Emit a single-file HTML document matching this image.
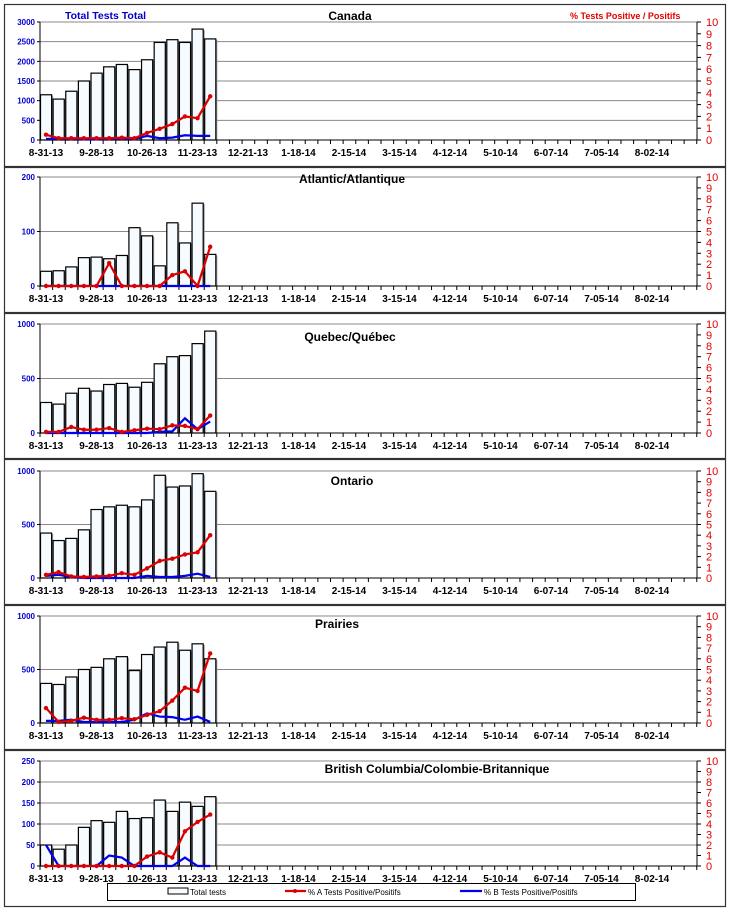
<!DOCTYPE html>
<html><head><meta charset="utf-8"><style>
html,body{margin:0;padding:0;background:#fff;}
svg{display:block;font-family:"Liberation Sans",Arial,sans-serif;}
</style></head><body>
<svg id="s" width="730" height="912" viewBox="0 0 730 912" xmlns="http://www.w3.org/2000/svg"></svg>
<script>
const S=document.getElementById('s');let h='';
const X0=40,XR=697,W=12.63;
const labels=['8-31-13','9-28-13','10-26-13','11-23-13','12-21-13','1-18-14','2-15-14','3-15-14','4-12-14','5-10-14','6-07-14','7-05-14','8-02-14'];
const P=[
{t:22,b:140,max:3000,step:500,title:'Canada',tx:350,ty:20,
tot:[1150,1040,1240,1500,1700,1860,1920,1790,2040,2480,2550,2480,2820,2570],
A:[0.45,0.15,0.15,0.15,0.15,0.15,0.2,0.15,0.6,0.95,1.35,2.0,1.85,3.7],
B:[0.1,0.1,0.1,0.05,0.05,0.1,0.1,0.1,0.35,0.15,0.2,0.4,0.35,0.35]},
{t:177,b:286,max:200,step:100,title:'Atlantic/Atlantique',tx:352,ty:183,
tot:[27,28,35,52,53,50,56,107,92,37,116,79,152,58],
A:[0,0,0,0,0,2.1,0,0,0,0,1.0,1.35,0,3.6],B:[0,0,0,0,0,0,0,0,0,0,0,0,0,0]},
{t:324,b:433,max:1000,step:500,title:'Quebec/Québec',tx:350,ty:341,
tot:[280,265,365,410,385,445,455,420,465,635,700,710,820,935],
A:[0.1,0.1,0.55,0.3,0.3,0.45,0.1,0.25,0.4,0.35,0.7,0.65,0.35,1.6],
B:[0,0,0,0,0,0,0,0,0,0.1,0.15,1.35,0.35,1.05]},
{t:471,b:578,max:1000,step:500,title:'Ontario',tx:352,ty:485,
tot:[420,350,370,450,640,665,680,665,730,960,850,860,975,810],
A:[0.3,0.55,0.15,0.1,0.15,0.2,0.45,0.3,0.9,1.6,1.8,2.2,2.4,4.0],
B:[0.2,0.3,0.1,0,0,0,0,0,0.2,0.1,0.1,0.2,0.4,0.1]},
{t:616,b:723,max:1000,step:500,title:'Prairies',tx:337,ty:628,
tot:[370,360,430,500,520,600,620,490,640,710,755,680,740,600],
A:[1.4,0.1,0.2,0.5,0.3,0.3,0.45,0.35,0.75,1.1,2.1,3.3,3.0,6.5],
B:[0.2,0.2,0.3,0.1,0.1,0.1,0.1,0.3,0.9,0.6,0.55,0.3,0.6,0.1]},
{t:761,b:866,max:250,step:50,title:'British Columbia/Colombie-Britannique',tx:437,ty:773,
tot:[50,40,50,92,108,104,130,113,115,157,130,152,142,165],
A:[0,0,0,0,0,0,0,0,0.9,1.3,0.8,3.3,4.2,4.9],
B:[2,0,0,0,0,1,0.8,0,0,0,0,0.8,0,0]}];
const borders=[4,167,313,459,605,750,907];
for(let i=0;i<6;i++)h+=`<rect x="4.5" y="${borders[i]+0.5}" width="721" height="${borders[i+1]-borders[i]-1}" fill="none" stroke="#333" stroke-width="1.2"/>`;
P.forEach(p=>{
 const H=p.b-p.t;
 const yv=v=>p.b-v/p.max*H, yr=v=>p.b-v/10*H;
 for(let v=p.step;v<=p.max;v+=p.step)h+=`<line x1="${X0}" x2="${XR}" y1="${yv(v)}" y2="${yv(v)}" stroke="#888" stroke-width="1"/>`;
 for(let v=0;v<=p.max;v+=p.step)h+=`<text x="35" y="${yv(v)+3}" font-size="8" font-weight="bold" fill="#0000cc" text-anchor="end">${v}</text><line x1="37" x2="${X0}" y1="${yv(v)}" y2="${yv(v)}" stroke="#000"/>`;
 for(let k=0;k<=10;k++)h+=`<line x1="${XR}" x2="${XR+4}" y1="${yr(k)}" y2="${yr(k)}" stroke="#000"/><text x="706" y="${yr(k)+4}" font-size="11" fill="#e00000">${k}</text>`;
 p.tot.forEach((v,i)=>{const x=X0+W*i;h+=`<rect x="${x+1.5}" y="${yv(v)+1}" width="${W-1}" height="${p.b-yv(v)-1}" fill="#999"/><rect x="${x+0.5}" y="${yv(v)}" width="${W-1.5}" height="${p.b-yv(v)}" fill="#f6fbff" stroke="#000" stroke-width="1.2"/>`;});
 h+=`<line x1="${X0}" x2="${X0}" y1="${p.t}" y2="${p.b}" stroke="#000"/><line x1="${XR}" x2="${XR}" y1="${p.t}" y2="${p.b}" stroke="#000"/><line x1="${X0}" x2="${XR}" y1="${p.b}" y2="${p.b}" stroke="#000"/>`;
 for(let i=0;i<=52;i++){const x=X0+W*i;h+=`<line x1="${x}" x2="${x}" y1="${p.b}" y2="${p.b+4}" stroke="#000"/>`;}
 labels.forEach((l,k)=>h+=`<text x="${46+50.5*k}" y="${p.b+16}" font-size="10" font-weight="bold" text-anchor="middle">${l}</text>`);
 const pts=a=>a.map((v,i)=>`${46+W*i},${yr(v)}`).join(' ');
 h+=`<polyline points="${pts(p.B)}" fill="none" stroke="#0000ee" stroke-width="2.2"/>`;
 h+=`<polyline points="${pts(p.A)}" fill="none" stroke="#dd0000" stroke-width="2.2"/>`;
 p.A.forEach((v,i)=>h+=`<circle cx="${46+W*i}" cy="${yr(v)}" r="2.2" fill="#dd0000"/>`);
 h+=`<text x="${p.tx}" y="${p.ty}" font-size="12" font-weight="bold" text-anchor="middle">${p.title}</text>`;
});
h+=`<text x="65" y="19" font-size="10.5" font-weight="bold" fill="#0000cc">Total Tests Total</text>`;
h+=`<text x="570" y="19" font-size="9" font-weight="bold" fill="#e00000">% Tests Positive / Positifs</text>`;
h+=`<rect x="107.5" y="883.5" width="528" height="17" fill="#fff" stroke="#000"/>`;
h+=`<rect x="168" y="888" width="20" height="6" fill="#f6fbff" stroke="#000"/><text x="190" y="895" font-size="8">Total tests</text>`;
h+=`<line x1="285" x2="306" y1="891" y2="891" stroke="#dd0000" stroke-width="2.2"/><circle cx="295" cy="891" r="2" fill="#dd0000"/><text x="308" y="895" font-size="8">% A Tests Positive/Positifs</text>`;
h+=`<line x1="460" x2="482" y1="891" y2="891" stroke="#0000ee" stroke-width="2.2"/><text x="484" y="895" font-size="8">% B Tests Positive/Positifs</text>`;
S.innerHTML=h;
</script>
</body></html>
